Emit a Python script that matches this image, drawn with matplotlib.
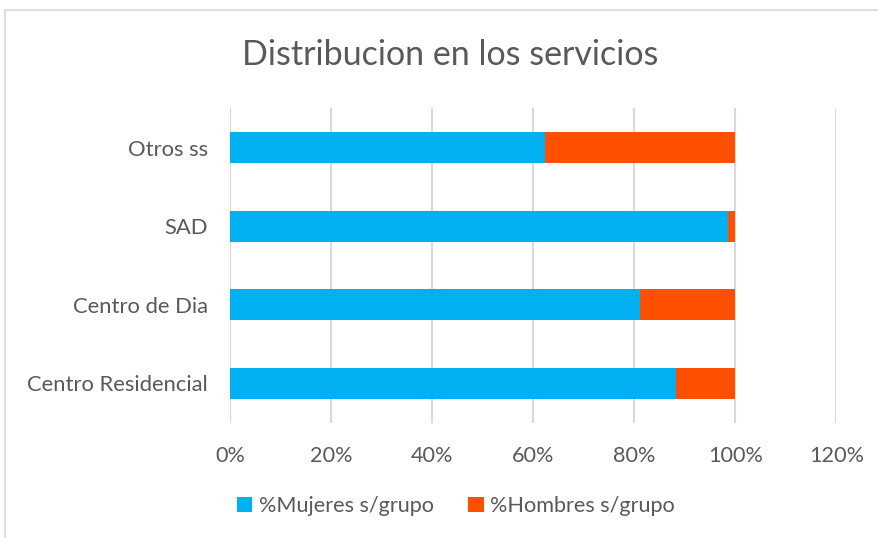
"""
Distribución por sexo en los servicios (barras horizontales apiladas al 100%).
"""

import matplotlib

matplotlib.use("Agg")  # sin ventana: solo guardar a archivo
import matplotlib.pyplot as plt
from matplotlib.patches import Rectangle
from matplotlib.ticker import FuncFormatter

SERVICIOS = ["Centro Residencial", "Centro de Dia", "SAD", "Otros ss"]
MUJERES = [0.883, 0.812, 0.986, 0.623]
HOMBRES = [0.117, 0.188, 0.014, 0.377]
TICKS_X = [0, 0.2, 0.4, 0.6, 0.8, 1.0, 1.2]

COLOR_MUJERES = "#00B0F0"
COLOR_HOMBRES = "#FF5000"
COLOR_TEXTO = "#595959"
COLOR_GRILLA = "#D9D9D9"

plt.rcParams["font.family"] = ["Lato", "DejaVu Sans"]

fig = plt.figure(figsize=(8.79, 5.38), dpi=100)
ax = fig.add_axes([0.262, 0.2145, 0.6894, 0.584])

posiciones = range(len(SERVICIOS))
ax.barh(posiciones, MUJERES, height=0.4, color=COLOR_MUJERES, label="%Mujeres s/grupo", zorder=3)
ax.barh(posiciones, HOMBRES, left=MUJERES, height=0.4, color=COLOR_HOMBRES,
        label="%Hombres s/grupo", zorder=3)

ax.set_xlim(0, 1.2)
ax.set_ylim(-0.5, len(SERVICIOS) - 0.5)
ax.set_xticks(TICKS_X)
ax.xaxis.set_major_formatter(FuncFormatter(lambda v, _: f"{v * 100:.0f}%"))
ax.set_yticks(list(posiciones))
ax.set_yticklabels(SERVICIOS)
ax.tick_params(axis="x", length=0, pad=17, labelsize=15.6, labelcolor=COLOR_TEXTO)
ax.tick_params(axis="y", length=0, pad=16, labelsize=15.8, labelcolor=COLOR_TEXTO)
ax.grid(axis="x", color=COLOR_GRILLA, linewidth=1.5, zorder=0)
for lado in ax.spines.values():
    lado.set_visible(False)

fig.text(450.5 / 879, 1 - 55 / 538, "Distribucion en los servicios",
         ha="center", va="center", fontsize=24.5, color=COLOR_TEXTO)

fig.legend(loc="center", bbox_to_anchor=(456 / 879, 1 - 506 / 538), ncol=2, frameon=False,
           fontsize=15.6, labelcolor=COLOR_TEXTO, handlelength=0.7, handleheight=0.7,
           handletextpad=0.3, columnspacing=1.6)

# borde del área del gráfico (recortado a la derecha y abajo)
fig.patches.append(Rectangle((5 / 879, -0.1), 1.2, 1 - 10 / 538 + 0.1,
                             transform=fig.transFigure, fill=False,
                             edgecolor=COLOR_GRILLA, linewidth=1.2))

fig.savefig("out.png", dpi=100)
